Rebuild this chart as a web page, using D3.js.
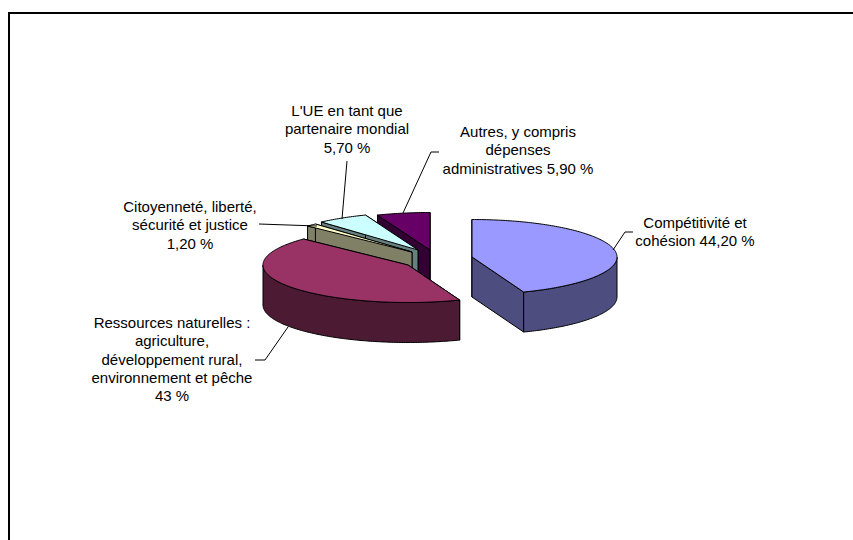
<!DOCTYPE html>
<html>
<head>
<meta charset="utf-8">
<script src="https://cdn.jsdelivr.net/npm/d3@7"></script>
<style>
  html, body { margin: 0; padding: 0; background: #fff; }
  text { font-family: "Liberation Sans", Arial, sans-serif; font-size: 15px; fill: #000; }
</style>
</head>
<body>
<svg id="chart" width="853" height="540"></svg>
<script>
const categories = [
  "Compétitivité et cohésion",
  "Ressources naturelles",
  "Citoyenneté, liberté, sécurité et justice",
  "L'UE en tant que partenaire mondial",
  "Autres, y compris dépenses administratives"
];
const values = [44.2, 43, 1.2, 5.7, 5.9];
const labelLines = [
  ["Compétitivité et", "cohésion 44,20 %"],
  ["Ressources naturelles :", "agriculture,", "développement rural,", "environnement et pêche", "43 %"],
  ["Citoyenneté, liberté,", "sécurité et justice", "1,20 %"],
  ["L'UE en tant que", "partenaire mondial", "5,70 %"],
  ["Autres, y compris", "dépenses", "administratives 5,90 %"]
];
const topColors = ["#9999ff", "#993366", "#ffffcc", "#ccffff", "#660066"];
const sideColors = ["#4d4d80", "#4d1a33", "#808066", "#668080", "#330033"];

// layout, pie is flattened to an ellipse, every slice pulled out on its own
const rx = 145, ry = 37.5, depth = 40;
const centers = [[472, 257], [408, 265], [412, 252], [418, 250], [430, 250]];
const labelPos = [[695, 228], [172, 328], [190, 212], [347, 116], [518, 137]];
const lineStep = 18.3;
const leaders = [
  [[633, 232], [625, 232], [613, 250]],
  [[255, 360], [265, 360], [288, 327]],
  [[259, 224], [317, 226]],
  [[347, 161], [342, 219]],
  [[439, 152], [431, 152], [403, 213]]
];
// back to front
const drawOrder = [4, 3, 2, 1, 0];

const svg = d3.select("#chart");

const slices = d3.pie().sort(null).value(d => d)(values);

const line = d3.line();

function project(c, angle, drop) {
  // angle is clockwise from 12 o'clock
  return [
    c[0] + Math.sin(angle) * rx,
    c[1] - Math.cos(angle) * ry + drop
  ];
}

function arcPoints(c, a0, a1, drop) {
  const n = Math.max(2, Math.ceil((a1 - a0) * 60));
  return d3.range(n + 1).map(i => project(c, a0 + (a1 - a0) * i / n, drop));
}

drawOrder.forEach(i => {
  const s = slices[i];
  const c = centers[i];
  const g = svg.append("g").attr("stroke", "#000").attr("stroke-width", 1).attr("stroke-linejoin", "round");

  // cut faces
  [s.startAngle, s.endAngle].forEach(a => {
    const p = project(c, a, 0);
    g.append("path")
      .attr("d", line([c, p, [p[0], p[1] + depth], [c[0], c[1] + depth]]) + "Z")
      .attr("fill", sideColors[i]);
  });

  // outer wall, only the front half of the ellipse can be seen
  const lo = Math.max(s.startAngle, Math.PI / 2);
  const hi = Math.min(s.endAngle, Math.PI * 1.5);
  if (hi > lo) {
    const upper = arcPoints(c, lo, hi, 0);
    const lower = arcPoints(c, lo, hi, depth).reverse();
    g.append("path")
      .attr("d", line(upper.concat(lower)) + "Z")
      .attr("fill", sideColors[i]);
  }

  // top
  g.append("path")
    .attr("d", line([c].concat(arcPoints(c, s.startAngle, s.endAngle, 0))) + "Z")
    .attr("fill", topColors[i]);
});

// leader lines
svg.selectAll("path.leader")
  .data(leaders)
  .join("path")
  .attr("class", "leader")
  .attr("d", d => line(d))
  .attr("fill", "none")
  .attr("stroke", "#000")
  .attr("stroke-width", 1);

// labels
labelLines.forEach((lines, i) => {
  const t = svg.append("text")
    .attr("text-anchor", "middle")
    .attr("data-category", categories[i]);
  lines.forEach((l, k) => {
    t.append("tspan")
      .attr("x", labelPos[i][0])
      .attr("y", labelPos[i][1] + k * lineStep)
      .text(l);
  });
});

// frame, only top and left are in the picture
svg.append("path")
  .attr("d", line([[9, 540], [9, 13], [853, 13]]))
  .attr("fill", "none")
  .attr("stroke", "#000")
  .attr("stroke-width", 2);
</script>
</body>
</html>
